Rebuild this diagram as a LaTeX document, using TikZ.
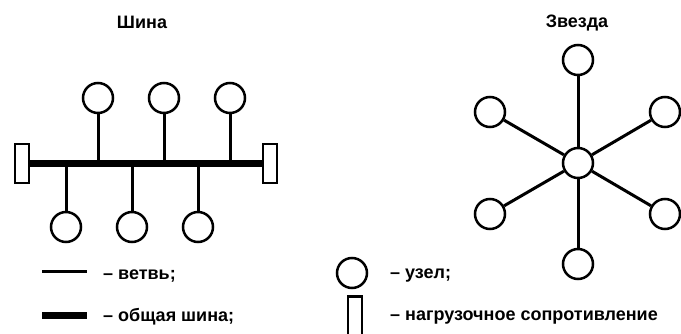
\documentclass[tikz,border=0pt]{standalone}
\usepackage{fontspec}
\setmainfont{Liberation Sans}
\tikzset{
  uzel/.style={circle,draw,line width=2.5pt,minimum size=30pt,inner sep=0pt},
  term/.style={rectangle,draw,line width=2.5pt,minimum width=14pt,minimum height=39pt,inner sep=0pt},
  branch/.style={line width=3pt},
  bus/.style={line width=7pt},
  lbl/.style={font=\fontsize{18}{20}\selectfont\bfseries,inner sep=0pt}
}
\begin{document}
\begin{tikzpicture}[x=1pt,y=-1pt]
\useasboundingbox (0,0) rectangle (681,334);
% titles
\node[lbl] (T1) at (142,22) {Шина};
\node[lbl] (T2) at (577,23) {Звезда};
% bus
\node[term] (R1) at (22,163.5) {};
\node[term] (R2) at (270,163.5) {};
\node[uzel] (U1) at (98,98) {};
\node[uzel] (U2) at (164,98) {};
\node[uzel] (U3) at (230,98) {};
\node[uzel] (L1) at (66,227) {};
\node[uzel] (L2) at (132,227) {};
\node[uzel] (L3) at (198,227) {};
\coordinate (b1) at (98,163.5);
\coordinate (b2) at (164,163.5);
\coordinate (b3) at (230,163.5);
\coordinate (b4) at (66,163.5);
\coordinate (b5) at (132,163.5);
\coordinate (b6) at (198,163.5);
\draw[bus] (R1) -- (R2);
\path[branch]
  (U1) edge (b1)
  (U2) edge (b2)
  (U3) edge (b3)
  (L1) edge (b4)
  (L2) edge (b5)
  (L3) edge (b6)
;
% star
\node[uzel] (C) at (578,163) {};
\node[uzel] (S1) at (578,60) {};
\node[uzel] (S2) at (665,112) {};
\node[uzel] (S3) at (665,214) {};
\node[uzel] (S4) at (578,264) {};
\node[uzel] (S5) at (490,214) {};
\node[uzel] (S6) at (490,112) {};
\path[branch]
  (C) edge (S1)
  (C) edge (S2)
  (C) edge (S3)
  (C) edge (S4)
  (C) edge (S5)
  (C) edge (S6)
;
% legend
\coordinate (k1) at (42,272);
\coordinate (k2) at (87,272);
\coordinate (k3) at (42,315);
\coordinate (k4) at (87,315);
\draw[branch] (k1) -- (k2);
\draw[bus] (k3) -- (k4);
\node[lbl,anchor=west] (E1) at (103,276) {– ветвь;};
\node[lbl,anchor=west] (E2) at (103,317) {– общая шина;};
\node[uzel] (K) at (352,273) {};
\node[term] (KR) at (355,316) {};
\node[lbl,anchor=west] (E3) at (390,276) {– узел;};
\node[lbl,anchor=west] (E4) at (390,318) {– нагрузочное сопротивление};
\end{tikzpicture}
\end{document}
